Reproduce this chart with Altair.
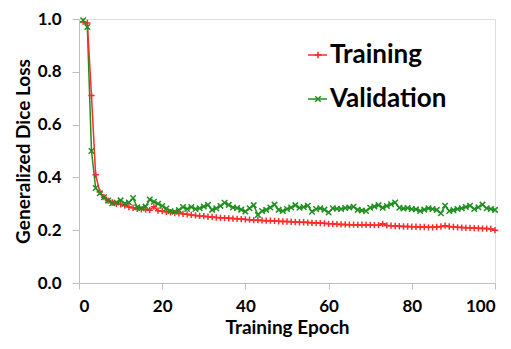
import altair as alt
import pandas as pd

epochs = list(range(1, 101))

training = [
    0.990, 0.985, 0.710, 0.410, 0.345, 0.325, 0.312, 0.305, 0.300, 0.298,
    0.293, 0.288, 0.285, 0.281, 0.279, 0.278, 0.276, 0.289, 0.274, 0.272,
    0.270, 0.268, 0.265, 0.264, 0.262, 0.260, 0.258, 0.256, 0.254, 0.253,
    0.251, 0.250, 0.248, 0.247, 0.246, 0.245, 0.244, 0.243, 0.242, 0.241,
    0.240, 0.238, 0.238, 0.237, 0.236, 0.236, 0.235, 0.234, 0.233, 0.233,
    0.232, 0.231, 0.230, 0.230, 0.229, 0.228, 0.227, 0.227, 0.226, 0.224,
    0.224, 0.223, 0.222, 0.222, 0.221, 0.221, 0.220, 0.221, 0.220, 0.220,
    0.219, 0.219, 0.224, 0.218, 0.217, 0.216, 0.215, 0.214, 0.214, 0.213,
    0.213, 0.212, 0.212, 0.211, 0.211, 0.212, 0.214, 0.217, 0.214, 0.212,
    0.211, 0.210, 0.209, 0.209, 0.208, 0.207, 0.206, 0.206, 0.205, 0.200,
]

validation = [
    0.995, 0.970, 0.500, 0.360, 0.340, 0.325, 0.312, 0.302, 0.305, 0.313,
    0.301, 0.305, 0.322, 0.287, 0.283, 0.290, 0.316, 0.308, 0.300, 0.292,
    0.282, 0.272, 0.270, 0.276, 0.288, 0.280, 0.288, 0.280, 0.283, 0.290,
    0.296, 0.277, 0.283, 0.292, 0.304, 0.296, 0.286, 0.284, 0.278, 0.271,
    0.283, 0.295, 0.258, 0.273, 0.277, 0.286, 0.297, 0.277, 0.273, 0.280,
    0.286, 0.295, 0.285, 0.288, 0.293, 0.270, 0.280, 0.283, 0.278, 0.267,
    0.283, 0.281, 0.280, 0.284, 0.286, 0.289, 0.277, 0.275, 0.273, 0.285,
    0.290, 0.295, 0.285, 0.292, 0.298, 0.305, 0.285, 0.282, 0.284, 0.280,
    0.279, 0.273, 0.278, 0.283, 0.280, 0.277, 0.264, 0.293, 0.273, 0.276,
    0.280, 0.283, 0.288, 0.293, 0.280, 0.287, 0.297, 0.283, 0.280, 0.277,
]

x_ticks = [0, 20, 40, 60, 80, 100]
y_ticks = [0.0, 0.2, 0.4, 0.6, 0.8, 1.0]

RED = "#ff2a2a"
GREEN = "#1f8f1f"
FONT = "Lato"
PLUS = "M-1,0H1M0,-1V1"
XMARK = "M-1,-1L1,1M-1,1L1,-1"

df_t = pd.DataFrame({"epoch": epochs, "loss": training})
df_v = pd.DataFrame({"epoch": epochs, "loss": validation})

x_enc = alt.X(
    "epoch:Q",
    scale=alt.Scale(domain=[0, 100], nice=False),
    axis=alt.Axis(
        values=x_ticks, title="Training Epoch", format="d",
        labelFont=FONT, labelFontSize=17, labelFontWeight="bold", labelColor="#000",
        titleFont=FONT, titleFontSize=19, titleFontWeight="bold", titleColor="#000",
        tickSize=6, labelPadding=9, titlePadding=4,
        domainColor="#bfbfbf", tickColor="#bfbfbf", grid=False,
    ),
)
y_enc = alt.Y(
    "loss:Q",
    scale=alt.Scale(domain=[0, 1], nice=False),
    axis=alt.Axis(
        values=y_ticks, title="Generalized Dice Loss", format=".1f",
        labelFont=FONT, labelFontSize=17, labelFontWeight="bold", labelColor="#000",
        titleFont=FONT, titleFontSize=19, titleFontWeight="bold", titleColor="#000",
        tickSize=7, labelPadding=11, titlePadding=4,
        domainColor="#bfbfbf", tickColor="#bfbfbf", grid=False,
    ),
)

line_t = alt.Chart(df_t).mark_line(color=RED, strokeWidth=1.5).encode(x=x_enc, y=y_enc)
line_v = alt.Chart(df_v).mark_line(color=GREEN, strokeWidth=1.5).encode(x=x_enc, y=y_enc)
pts_t = alt.Chart(df_t).mark_point(shape=PLUS, filled=False, color=RED, size=40, strokeWidth=1.5, opacity=1).encode(x=x_enc, y=y_enc)
pts_v = alt.Chart(df_v).mark_point(shape=XMARK, filled=False, color=GREEN, size=30, strokeWidth=1.5, opacity=1).encode(x=x_enc, y=y_enc)

one = pd.DataFrame({"k": [0]})
leg = []
for name, color, shape, size, yy in [("Training", RED, PLUS, 40, 36), ("Validation", GREEN, XMARK, 30, 80)]:
    leg.append(alt.Chart(one).mark_rule(color=color, strokeWidth=1.5).encode(
        x=alt.value(229), x2=alt.value(248), y=alt.value(yy)))
    leg.append(alt.Chart(one).mark_point(shape=shape, filled=False, color=color, size=size, strokeWidth=1.5, opacity=1).encode(
        x=alt.value(239), y=alt.value(yy)))
    leg.append(alt.Chart(one).mark_text(font=FONT, fontSize=26, fontWeight="bold", color="#000",
                                        align="left", baseline="middle").encode(
        x=alt.value(251), y=alt.value(yy), text=alt.value(name)))

chart = alt.layer(line_v, line_t, pts_t, pts_v, *leg).properties(
    width=416, height=264,
    autosize=alt.AutoSizeParams(type="none"),
    padding={"left": 71, "top": 11, "right": 8, "bottom": 55},
).configure_view(stroke=None).configure(background="white")

chart.save("out.html", embed_options={"renderer": "svg", "actions": False})
